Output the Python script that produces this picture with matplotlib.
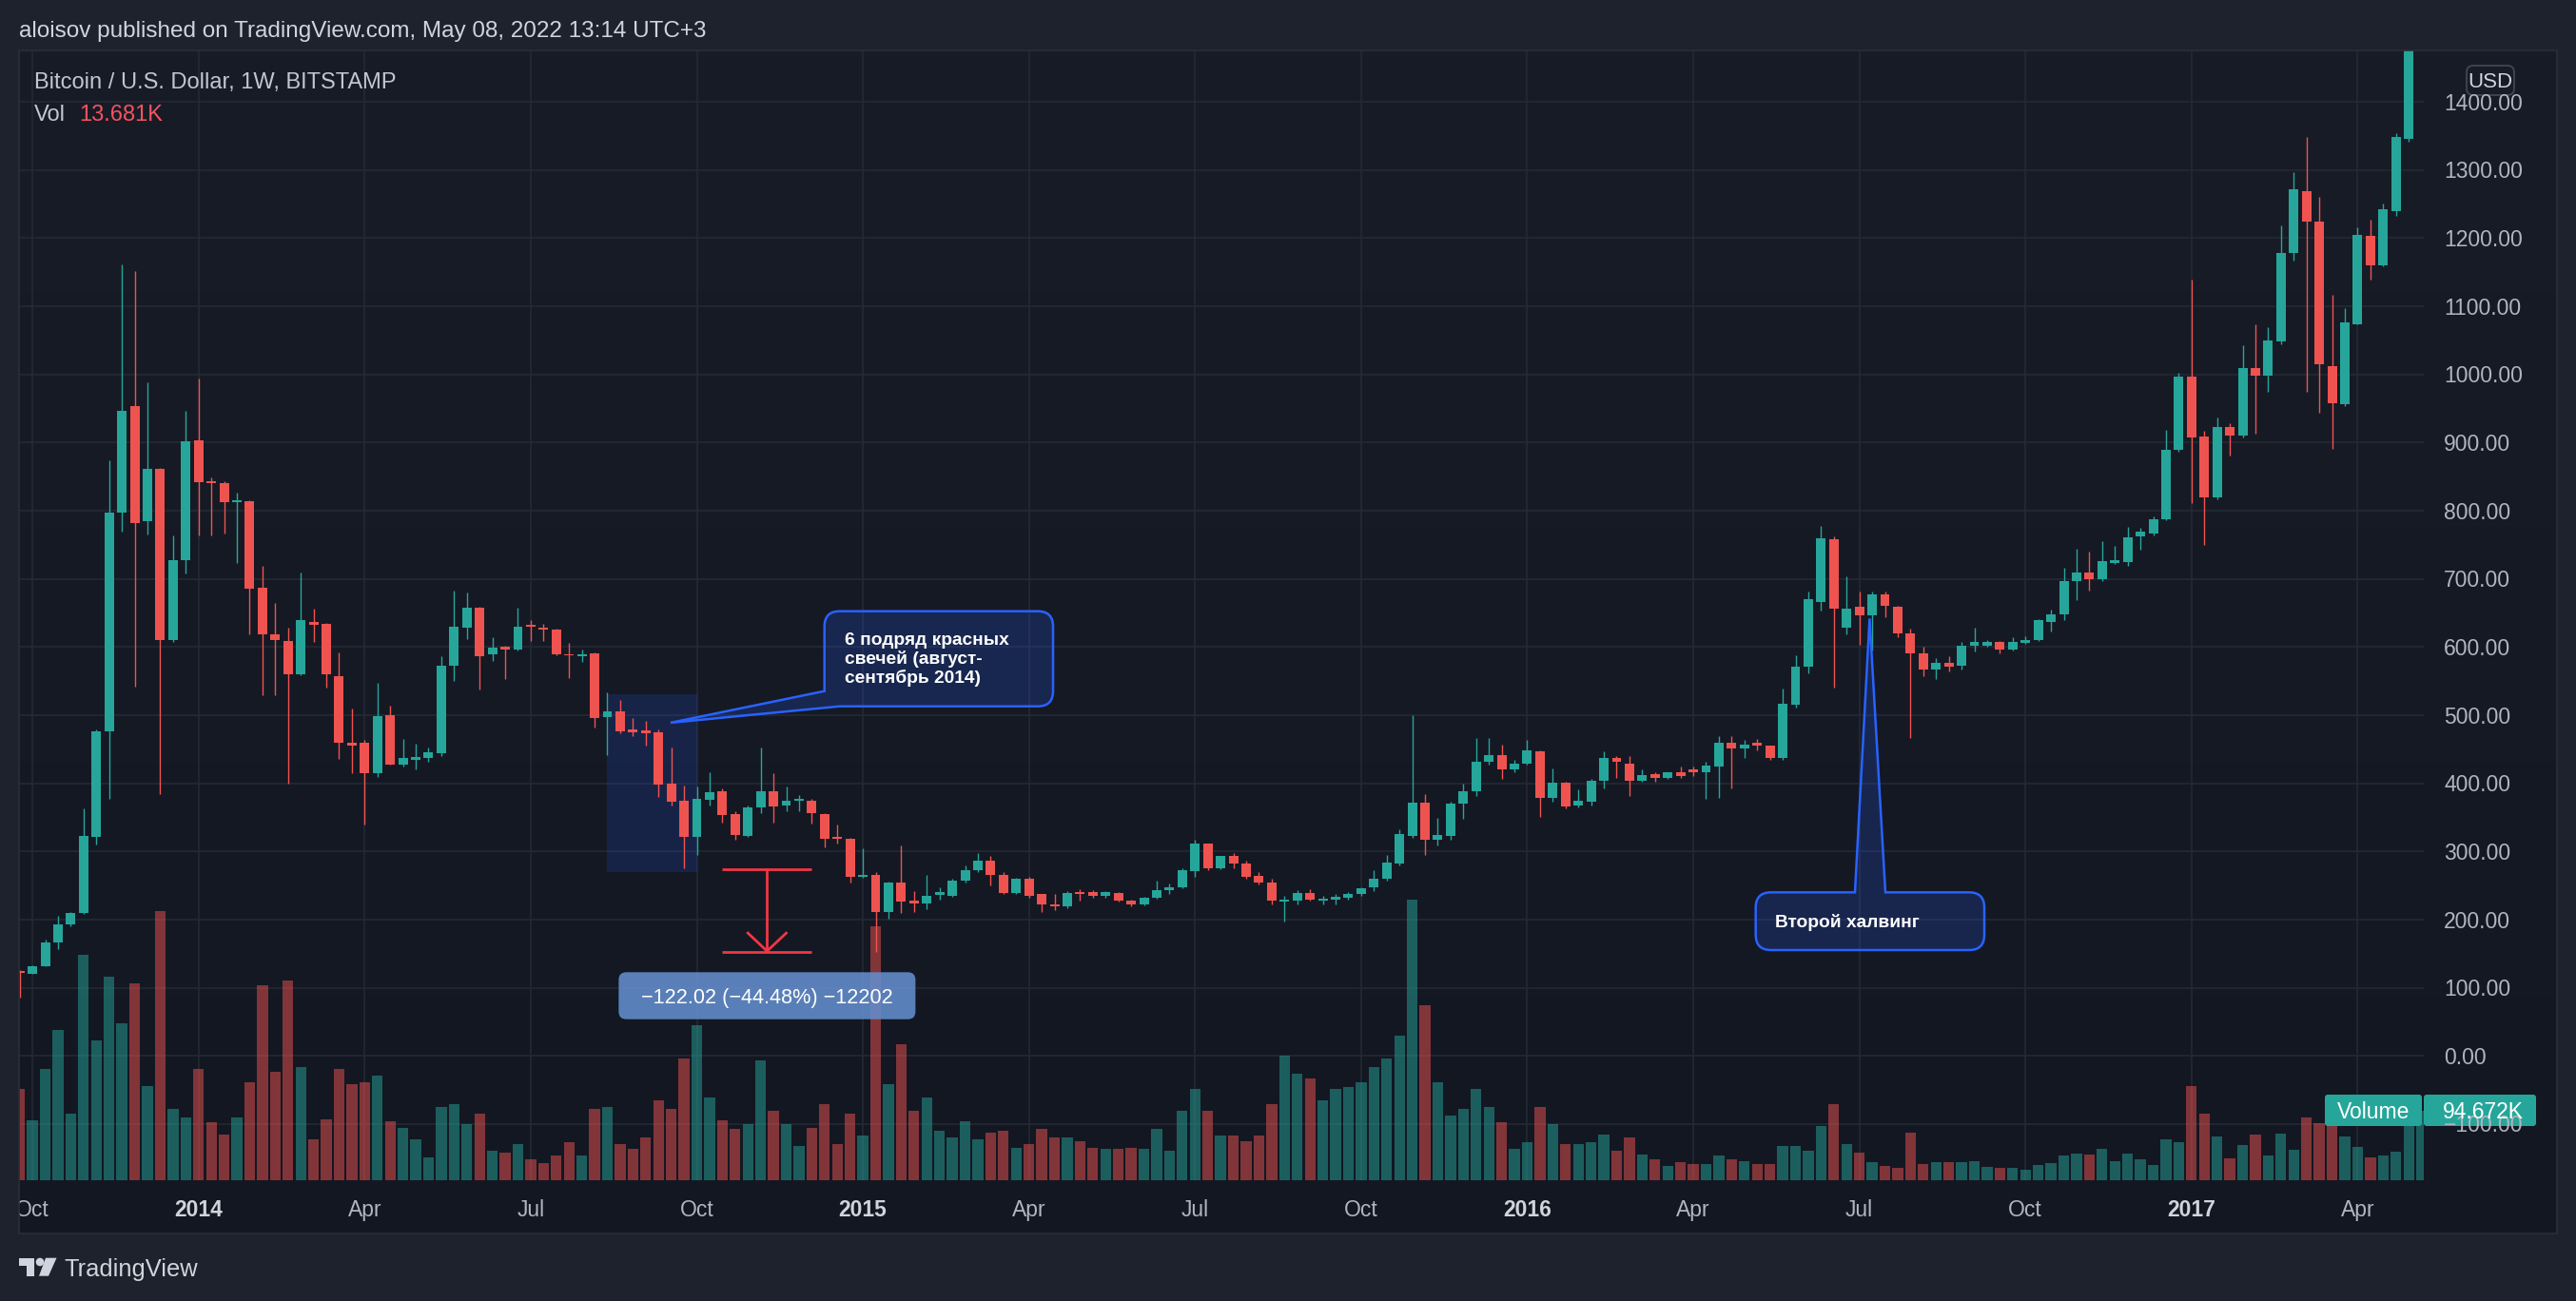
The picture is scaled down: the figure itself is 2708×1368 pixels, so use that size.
import matplotlib
matplotlib.use("Agg")
import matplotlib.pyplot as plt
import numpy as np
import pandas as pd
from matplotlib.patches import Rectangle, FancyBboxPatch, PathPatch, Polygon, Circle
from matplotlib.path import Path
from matplotlib import transforms

# Weekly BTC/USD candles (Bitstamp). Week starts Monday.
first_week = "2013-09-30"

opens = [
    125, 121, 132, 166, 193, 210, 322, 477, 798, 953,
    785, 862, 611, 727, 903, 843, 840, 813, 814, 687,
    619, 609, 560, 637, 634, 557, 459, 459, 415, 500,
    428, 435, 437, 444, 572, 629, 658, 590, 600, 597,
    632, 629, 626, 590, 587, 591, 497, 506, 479, 478,
    475, 400, 375, 322, 376, 388, 355, 323, 364, 389,
    367, 375, 375, 355, 322, 318, 263, 266, 211, 254,
    228, 224, 236, 235, 257, 273, 286, 266, 239, 260,
    237, 223, 219, 241, 240, 235, 239, 228, 222, 232,
    243, 247, 271, 311, 275, 293, 282, 264, 255, 226,
    228, 239, 228, 229, 232, 238, 247, 260, 282, 323,
    371, 317, 323, 370, 388, 432, 441, 420, 429, 447,
    378, 401, 367, 373, 404, 437, 429, 404, 413, 408,
    417, 420, 417, 425, 459, 451, 460, 455, 437, 515,
    571, 666, 758, 629, 659, 647, 678, 659, 620, 591,
    567, 577, 572, 602, 602, 607, 597, 606, 611, 637,
    648, 697, 709, 699, 724, 725, 762, 767, 787, 889,
    997, 909, 820, 923, 910, 1010, 998, 1048, 1179, 1269,
    1225, 1012, 957, 1074, 1203, 1160, 1240, 1346, 1550,
]
highs = [
    126, 133, 171, 206, 211, 363, 479, 874, 1161, 1152,
    989, 863, 764, 947, 994, 849, 844, 827, 815, 719,
    665, 628, 709, 656, 635, 592, 510, 464, 547, 514,
    465, 458, 453, 586, 683, 680, 659, 614, 602, 658,
    640, 634, 627, 606, 597, 592, 533, 522, 496, 491,
    479, 453, 397, 395, 417, 393, 359, 367, 453, 415,
    395, 383, 377, 356, 339, 320, 304, 270, 256, 309,
    242, 266, 248, 260, 279, 297, 293, 270, 261, 263,
    238, 238, 242, 245, 243, 242, 240, 230, 233, 257,
    253, 275, 317, 312, 294, 297, 286, 270, 260, 235,
    243, 245, 235, 238, 241, 247, 272, 295, 333, 500,
    384, 349, 373, 400, 466, 466, 457, 435, 464, 448,
    422, 402, 391, 407, 447, 440, 440, 420, 417, 417,
    425, 425, 431, 469, 469, 464, 465, 456, 539, 588,
    682, 778, 763, 704, 682, 682, 682, 661, 627, 600,
    584, 586, 607, 629, 610, 609, 614, 616, 641, 655,
    716, 744, 740, 755, 748, 776, 775, 792, 919, 1003,
    1139, 917, 937, 928, 1043, 1074, 1069, 1219, 1297, 1348,
    1260, 1117, 1098, 1216, 1227, 1251, 1354, 1560, 1800,
]
lows = [
    85, 120, 131, 157, 190, 209, 310, 377, 769, 542,
    765, 384, 608, 708, 764, 764, 766, 724, 618, 530,
    530, 400, 559, 608, 541, 436, 415, 340, 409, 427,
    424, 420, 431, 440, 550, 612, 538, 580, 553, 595,
    609, 609, 588, 555, 578, 482, 442, 473, 469, 456,
    380, 368, 275, 295, 368, 342, 317, 321, 357, 342,
    359, 359, 341, 306, 312, 255, 262, 153, 202, 210,
    211, 215, 230, 234, 255, 270, 250, 237, 237, 232,
    211, 214, 217, 228, 232, 232, 227, 220, 221, 231,
    238, 246, 263, 272, 274, 275, 260, 252, 222, 197,
    223, 228, 223, 223, 230, 235, 242, 257, 279, 320,
    295, 309, 317, 348, 382, 428, 407, 417, 427, 351,
    373, 363, 364, 368, 392, 408, 382, 402, 402, 406,
    408, 411, 377, 379, 393, 437, 448, 434, 435, 511,
    562, 654, 540, 618, 604, 595, 644, 615, 466, 557,
    553, 564, 567, 593, 601, 591, 595, 605, 609, 623,
    639, 669, 683, 697, 722, 719, 743, 764, 786, 887,
    811, 750, 817, 881, 908, 913, 975, 1044, 1167, 974,
    944, 891, 953, 1073, 1139, 1159, 1233, 1341, 1540,
]
closes = [
    122, 132, 166, 193, 210, 323, 477, 798, 947, 782,
    862, 611, 727, 902, 842, 840, 813, 815, 686, 618,
    611, 560, 640, 633, 560, 459, 456, 415, 498, 428,
    437, 439, 446, 572, 630, 658, 587, 599, 597, 630,
    630, 626, 589, 588, 590, 496, 506, 477, 475, 474,
    398, 373, 322, 377, 387, 354, 324, 364, 389, 366,
    375, 377, 357, 319, 318, 263, 265, 211, 254, 226,
    224, 235, 240, 257, 273, 286, 266, 239, 260, 235,
    222, 220, 239, 237, 235, 240, 228, 222, 232, 243,
    248, 272, 311, 275, 293, 282, 263, 255, 228, 230,
    239, 229, 231, 233, 237, 246, 260, 284, 326, 371,
    317, 324, 370, 388, 432, 441, 420, 429, 448, 379,
    401, 366, 375, 404, 437, 431, 404, 412, 408, 416,
    411, 416, 426, 459, 451, 457, 455, 437, 517, 571,
    671, 760, 656, 657, 647, 678, 660, 620, 591, 567,
    577, 571, 602, 607, 607, 597, 607, 611, 639, 648,
    697, 710, 699, 726, 727, 761, 770, 788, 889, 997,
    907, 820, 923, 910, 1010, 998, 1050, 1179, 1272, 1225,
    1015, 958, 1076, 1205, 1160, 1242, 1348, 1552, 1720,
]
# volume bars, in volume-pane units
volumes = [
    150, 99, 183, 247, 109, 372, 231, 336, 258, 325,
    156, 444, 117, 104, 183, 96, 76, 103, 162, 322,
    178, 330, 186, 67, 101, 184, 159, 161, 172, 98,
    87, 68, 37, 121, 125, 92, 110, 49, 46, 59,
    34, 29, 40, 63, 40, 118, 120, 60, 51, 70,
    132, 117, 201, 255, 136, 99, 84, 92, 198, 114,
    93, 57, 87, 125, 59, 110, 74, 418, 159, 225,
    114, 137, 81, 70, 98, 68, 79, 81, 54, 60,
    85, 71, 71, 65, 54, 51, 51, 54, 51, 84,
    48, 115, 151, 115, 73, 73, 65, 73, 125, 205,
    176, 168, 132, 151, 153, 162, 186, 201, 239, 463,
    288, 161, 107, 118, 151, 120, 96, 52, 62, 120,
    92, 60, 60, 63, 76, 49, 70, 43, 35, 23,
    30, 26, 27, 41, 34, 32, 27, 27, 56, 57,
    48, 90, 125, 60, 46, 30, 23, 21, 79, 27,
    30, 30, 30, 31, 22, 20, 20, 18, 25, 29,
    40, 44, 42, 52, 31, 44, 35, 25, 67, 62,
    155, 110, 72, 36, 58, 76, 40, 77, 50, 103,
    94, 92, 72, 55, 37, 40, 47, 100, 115,
]

price_ticks = list(range(-100, 1500, 100))
quarter_months = [1, 4, 7, 10]

# annotations
highlight_bars = (46, 53)          # "6 red candles" shaded zone
highlight_prices = (270.0, 530.6)
range_bars = (55, 62)
range_top, range_bottom = 274.32, 152.30
range_label = "\u2212122.02 (\u221244.48%) \u221212202"
callout_lines = ["6 подряд красных", "свечей (август-", "сентябрь 2014)"]
callout_anchor = (50.95, 489)
halving_text = "Второй халвинг"
halving_anchor = (144.8, 642)

header = "aloisov published on TradingView.com, May 08, 2022 13:14 UTC+3"
title = "Bitcoin / U.S. Dollar, 1W, BITSTAMP"
vol_last = "13.681K"
vol_tag = "94.672K"

# ---------------------------------------------------------------- layout
W, H, DPI = 2708, 1368, 100
FRAME = "#1e222d"
GRID = "#262a35"
BORDER = "#2a2e39"
UP, DOWN = "#26a69a", "#ef5350"
TXT = "#d1d4dc"
AXTXT = "#b2b5be"
BLUE = "#2962ff"
FONT = "Liberation Sans"

plt.rcParams["font.family"] = [FONT, "DejaVu Sans"]

fig = plt.figure(figsize=(W / DPI, H / DPI), dpi=DPI)
fig.patch.set_facecolor(FRAME)


def px_axes(x0, y0, x1, y1):
    return fig.add_axes([x0 / W, 1 - y1 / H, (x1 - x0) / W, (y1 - y0) / H])


# chart background with a faint vertical gradient
bg = px_axes(20, 53, 2688, 1297)
top_c = np.array([24, 28, 39]) / 255
bot_c = np.array([19, 23, 34]) / 255
t = np.linspace(0, 1, 256)[:, None]
grad = (top_c * (1 - t) + bot_c * t)[:, None, :]
bg.imshow(grad, aspect="auto", extent=(0, 1, 0, 1))
bg.set_axis_off()
bg.set_zorder(0)

n = len(opens)
x = np.arange(n)
o = np.array(opens, float)
hi = np.array(highs, float)
lo = np.array(lows, float)
c = np.array(closes, float)
up = c >= o
colors = np.where(up, UP, DOWN)

XMIN, XMAX = -0.052, 188.18
YMIN, YMAX = -182.4, 1475.6
VOL_PANE = 1863.0  # volume units that span the full pane height

ax = px_axes(20, 53, 2548, 1241)
ax.set_zorder(1)
ax.patch.set_visible(False)
ax.set_xlim(XMIN, XMAX)
ax.set_ylim(YMIN, YMAX)
for s in ax.spines.values():
    s.set_visible(False)
ax.set_xticks([])
ax.set_yticks([])

# time labels: first weekly bar of each quarter
weeks = pd.date_range(first_week, periods=n, freq="7D")
months = weeks.to_period("M")
tick_idx, tick_lab = [], []
for i in range(1, n):
    if months[i] != months[i - 1] and weeks[i].month in quarter_months:
        tick_idx.append(i)
        tick_lab.append(str(weeks[i].year) if weeks[i].month == 1 else weeks[i].strftime("%b"))

for p in price_ticks:
    ax.axhline(p, color=GRID, lw=1.1, zorder=0)
for i in tick_idx:
    ax.axvline(i, color=GRID, lw=1.1, zorder=0)

# volume
vol_scale = (YMAX - YMIN) / VOL_PANE
vcol = [(0.149, 0.651, 0.604, 0.5) if u else (0.937, 0.325, 0.314, 0.5) for u in up]
ax.bar(x, np.array(volumes) * vol_scale, bottom=YMIN, width=0.84, color=vcol, zorder=2, linewidth=0)

# shaded zone
ax.add_patch(Rectangle((highlight_bars[0], highlight_prices[0]),
                       highlight_bars[1] - highlight_bars[0],
                       highlight_prices[1] - highlight_prices[0],
                       facecolor=(0.161, 0.384, 1.0, 0.16), edgecolor="none", zorder=1))

# candles
ax.vlines(x, lo, hi, colors=colors, lw=1.0, zorder=3)
body = np.maximum(np.abs(c - o), 1.4)
ax.bar(x, body, bottom=np.minimum(o, c), width=0.74, color=colors, zorder=3, linewidth=0)

# price range tool
RED = "#f23645"
mid = (range_bars[0] + range_bars[1]) / 2
ax.plot(range_bars, [range_top, range_top], color=RED, lw=2, zorder=4, solid_capstyle="butt")
ax.plot(range_bars, [range_bottom, range_bottom], color=RED, lw=2, zorder=4, solid_capstyle="butt")
ax.plot([mid, mid], [range_top, range_bottom + 1.5], color=RED, lw=2, zorder=4)
ax.plot([mid - 1.5, mid, mid + 1.5], [range_bottom + 28, range_bottom + 1.5, range_bottom + 28],
        color=RED, lw=2, zorder=4)

# time axis strip
tax = px_axes(20, 1241, 2548, 1297)
tax.set_xlim(XMIN, XMAX)
tax.set_ylim(1297, 1241)
tax.patch.set_visible(False)
for s in tax.spines.values():
    s.set_visible(False)
tax.set_xticks([])
tax.set_yticks([])
for i, lab in zip(tick_idx, tick_lab):
    is_year = lab.isdigit()
    tax.text(i, 1279.3, lab, ha="center", va="baseline", fontsize=16.5,
             color=TXT if is_year else AXTXT, fontweight="bold" if is_year else "normal",
             clip_on=True)

# overlay in pixel coordinates (y down)
ov = px_axes(0, 0, W, H)
ov.set_xlim(0, W)
ov.set_ylim(H, 0)
ov.set_axis_off()
ov.set_zorder(5)


def to_px(xd, yd):
    X, Y = ax.transData.transform((xd, yd))
    return X, H - Y


ov.add_patch(Rectangle((20, 53), 2668, 1244, facecolor="none", edgecolor=BORDER, lw=1.2))

# price scale labels
for p in price_ticks:
    _, py = to_px(0, p)
    lab = f"{p:.2f}".replace("-", "\u2212")
    ov.text(2569, py + 8.5, lab, ha="left", va="baseline", fontsize=16.5, color=AXTXT)

ov.add_patch(FancyBboxPatch((2593, 69), 50, 31, boxstyle="round,pad=0,rounding_size=7",
                            facecolor="#181c27", edgecolor="#434651", lw=1.3))
ov.text(2618, 92.5, "USD", ha="center", va="baseline", fontsize=16, color=TXT)

# volume tag
ov.add_patch(FancyBboxPatch((2444, 1151), 102, 33, boxstyle="round,pad=0,rounding_size=3",
                            facecolor=UP, edgecolor="none"))
ov.add_patch(FancyBboxPatch((2548, 1151), 118, 33, boxstyle="round,pad=0,rounding_size=3",
                            facecolor=UP, edgecolor="none"))
ov.text(2495, 1176, "Volume", ha="center", va="baseline", fontsize=16.5, color="white")
ov.text(2610, 1176, vol_tag, ha="center", va="baseline", fontsize=16.5, color="white")

# header and legend
ov.text(20, 39.3, header, ha="left", va="baseline", fontsize=17.5, color=TXT)
ov.text(36, 93.3, title, ha="left", va="baseline", fontsize=17, color="#c3c6ce")
ov.text(36, 126.7, "Vol", ha="left", va="baseline", fontsize=17, color="#c3c6ce")
ov.text(83.5, 126.7, vol_last, ha="left", va="baseline", fontsize=17, color="#f7525f")


def callout_path(L, T, R, B, r, tip, where):
    M, Ln, C3 = Path.MOVETO, Path.LINETO, Path.CURVE3
    verts, codes = [(L + r, T)], [M]
    if where[0] == "top":
        verts += [(where[1], T), tip, (where[2], T)]
        codes += [Ln] * 3
    verts += [(R - r, T), (R, T), (R, T + r)]
    codes += [Ln, C3, C3]
    verts += [(R, B - r), (R, B), (R - r, B)]
    codes += [Ln, C3, C3]
    if where[0] == "bottomleft":
        verts += [(L + r, B), tip, (L, B - r)]
        codes += [Ln] * 3
    else:
        verts += [(L + r, B), (L, B), (L, B - r)]
        codes += [Ln, C3, C3]
    verts += [(L, T + r), (L, T), (L + r, T)]
    codes += [Ln, C3, C3]
    verts.append((L + r, T))
    codes.append(Path.CLOSEPOLY)
    return Path(verts, codes)


box_face = (0.161, 0.384, 1.0, 0.2)

tip1 = to_px(*callout_anchor)
ov.add_patch(PathPatch(callout_path(866.7, 642.7, 1107, 742.7, 16, tip1, ("bottomleft",)),
                       facecolor=box_face, edgecolor=BLUE, lw=1.8))
for k, line in enumerate(callout_lines):
    ov.text(887.7, 678.3 + 20 * k, line, ha="left", va="baseline", fontsize=13.8,
            fontweight="bold", color="white")

tip2 = to_px(*halving_anchor)
ov.add_patch(PathPatch(callout_path(1845.7, 938.3, 2086, 999, 16, tip2, ("top", 1950, 1982)),
                       facecolor=box_face, edgecolor=BLUE, lw=1.8))
ov.text(1866, 975, halving_text, ha="left", va="baseline", fontsize=13.8,
        fontweight="bold", color="white")

# price range label
mx, _ = to_px(mid, range_bottom)
ov.add_patch(FancyBboxPatch((mx - 156, 1022.3), 312, 49.4, boxstyle="round,pad=0,rounding_size=8",
                            facecolor=(0.392, 0.557, 0.808, 0.88), edgecolor="none"))
ov.text(mx, 1055, range_label, ha="center", va="baseline", fontsize=15.6, color="white")

# TradingView logo
LOGO = TXT
ov.add_patch(Polygon([(20, 1322.7), (36, 1322.7), (36, 1341.7), (28, 1341.7), (28, 1330.7), (20, 1330.7)],
                     closed=True, facecolor=LOGO, edgecolor="none"))
ov.add_patch(Circle((42, 1327), 4.3, facecolor=LOGO, edgecolor="none"))
ov.add_patch(Polygon([(48, 1322.7), (59.5, 1322.7), (51, 1341.7), (41, 1341.7)],
                     closed=True, facecolor=LOGO, edgecolor="none"))
ov.text(67, 1341.7, "TradingView", ha="left", va="baseline", fontsize=18.4, color=LOGO)

fig.savefig("out.png", dpi=DPI, facecolor=FRAME)
